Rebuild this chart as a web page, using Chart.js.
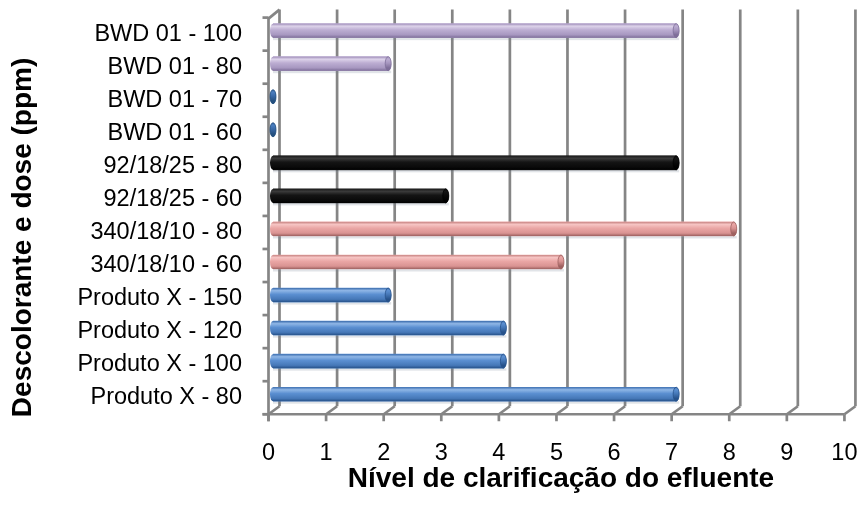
<!DOCTYPE html>
<html>
<head>
<meta charset="utf-8">
<script src="https://cdn.jsdelivr.net/npm/chart.js@4.4.1/dist/chart.umd.min.js"></script>
<style>
  html, body { margin: 0; padding: 0; background: #ffffff; }
  #wrap { width: 862px; height: 520px; }
</style>
</head>
<body>
<div id="wrap"><canvas id="chart"></canvas></div>
<script>
// Categories listed bottom-up (axis is reversed so the first one sits at the bottom)
const categories = [
  'Produto X - 80', 'Produto X - 100', 'Produto X - 120', 'Produto X - 150',
  '340/18/10 - 60', '340/18/10 - 80',
  '92/18/25 - 60', '92/18/25 - 80',
  'BWD 01 - 60', 'BWD 01 - 70', 'BWD 01 - 80', 'BWD 01 - 100'
];
const clarification = [7, 4, 4, 2, 5, 8, 3, 7, 0, 0, 2, 7];
const xTicks = [0, 1, 2, 3, 4, 5, 6, 7, 8, 9, 10];

// Cylinder shading per product family: [edge, highlight, body, lower, shadow]
const familyShades = {
  'Produto X': ['#3d6eae', '#8fb6e6', '#5b8fd1', '#4678b8', '#27528a'],
  '340/18/10': ['#c98584', '#f6c4c3', '#eaa6a5', '#d99392', '#9e6160'],
  '92/18/25':  ['#1a1a1a', '#3a3a3a', '#141414', '#0a0a0a', '#000000'],
  'BWD 01':    ['#9e8cb8', '#ddd3ea', '#bcadd2', '#a797c0', '#7e6e99']
};
const emptyCapShade = ['#3d6eae', '#7aa4d8', '#4a7ec0', '#3a6aa8', '#24507f'];
const familyOf = label => label.split(' - ')[0];

// 3D offsets of the back wall and front floor edge relative to the bar plane
const BACK = { dx: 6.5, dy: -4.5 };
const FRONT = { dx: -4.5, dy: 3.5 };
// vertical title sits a little below the middle of the plot
const Y_TITLE_SHIFT = 25;

function seg(ctx, x1, y1, x2, y2) {
  ctx.beginPath();
  ctx.moveTo(x1, y1);
  ctx.lineTo(x2, y2);
  ctx.stroke();
}

// Walls, floor edge, gridlines and axis ticks in pseudo-3D
const frame3d = {
  id: 'frame3d',
  beforeDatasetsDraw(chart) {
    const { ctx, chartArea: a, scales: { x } } = chart;
    ctx.save();
    ctx.strokeStyle = '#858585';
    ctx.lineWidth = 2.7;
    const floorF = a.bottom + FRONT.dy;
    const floorB = a.bottom + BACK.dy;
    xTicks.forEach(v => {
      const px = x.getPixelForValue(v);
      seg(ctx, px + BACK.dx, a.top + BACK.dy, px + BACK.dx, floorB);
      seg(ctx, px + FRONT.dx, floorF, px + BACK.dx, floorB);
      seg(ctx, px + FRONT.dx, floorF, px + FRONT.dx, floorF + 7);
    });
    const x0 = x.getPixelForValue(0);
    const x10 = x.getPixelForValue(10);
    seg(ctx, x0 + FRONT.dx - 6, floorF, x10 + FRONT.dx, floorF);
    // left wall front edge and its top corner
    const lx = a.left + FRONT.dx;
    seg(ctx, lx, a.top + FRONT.dy, lx, floorF + 7);
    seg(ctx, lx, a.top + FRONT.dy + 1, a.left + BACK.dx, a.top + BACK.dy);
    const step = (a.bottom - a.top) / categories.length;
    for (let k = 0; k <= categories.length; k++) {
      const py = a.top + k * step + FRONT.dy;
      seg(ctx, lx - 6, py, lx, py);
    }
    ctx.restore();
  }
};

// Moves the y-axis title down by Y_TITLE_SHIFT pixels
const titleShift = {
  id: 'titleShift',
  afterLayout(chart) {
    const s = chart.scales.y;
    if (s && !s.__shifted) {
      const orig = s.drawTitle.bind(s);
      s.drawTitle = function () {
        this.ctx.save();
        this.ctx.translate(0, Y_TITLE_SHIFT);
        orig();
        this.ctx.restore();
      };
      s.__shifted = true;
    }
  }
};

function bodyGradient(ctx, top, bottom, s) {
  const g = ctx.createLinearGradient(0, top, 0, bottom);
  g.addColorStop(0, s[0]);
  g.addColorStop(0.18, s[1]);
  g.addColorStop(0.45, s[2]);
  g.addColorStop(0.8, s[3]);
  g.addColorStop(1, s[4]);
  return g;
}

// Cylinder shading drawn over each bar element the library laid out
const cylinders = {
  id: 'cylinders',
  afterDatasetsDraw(chart) {
    const { ctx } = chart;
    const meta = chart.getDatasetMeta(0);
    meta.data.forEach((bar, i) => {
      const { x, y, base, height } = bar.getProps(['x', 'y', 'base', 'height'], true);
      const r = height / 2;
      const rx = 3;
      const empty = clarification[i] === 0;
      const s = empty ? emptyCapShade : familyShades[familyOf(categories[i])];
      const top = y - r, bottom = y + r;
      ctx.save();
      // soft shadow under the cylinder
      if (!empty) {
        ctx.fillStyle = 'rgba(120,130,150,0.22)';
        ctx.fillRect(base, bottom, x - base + rx, 2.5);
      }
      const g = bodyGradient(ctx, top, bottom, s);
      ctx.fillStyle = g;
      ctx.beginPath();
      ctx.ellipse(base, y, rx, r, 0, Math.PI / 2, Math.PI * 1.5);
      ctx.lineTo(x, top);
      ctx.ellipse(x, y, rx, r, 0, -Math.PI / 2, Math.PI / 2);
      ctx.closePath();
      ctx.fill();
      // end cap
      ctx.beginPath();
      ctx.ellipse(x, y, rx, r, 0, 0, Math.PI * 2);
      ctx.fillStyle = bodyGradient(ctx, top, bottom, [s[3], s[2], s[3], s[4], s[4]]);
      ctx.fill();
      ctx.lineWidth = 0.8;
      ctx.strokeStyle = s[4];
      ctx.stroke();
      ctx.restore();
    });
  }
};

const chart = new Chart(document.getElementById('chart'), {
  type: 'bar',
  data: {
    labels: categories,
    datasets: [{
      data: clarification,
      backgroundColor: categories.map(c => familyShades[familyOf(c)][2]),
      borderWidth: 0,
      barThickness: 14
    }]
  },
  options: {
    indexAxis: 'y',
    responsive: true,
    maintainAspectRatio: false,
    animation: false,
    layout: { padding: { top: 13, right: 12, bottom: 26.5, left: 0 } },
    plugins: { legend: { display: false }, tooltip: { enabled: false } },
    scales: {
      x: {
        type: 'linear',
        min: 0,
        max: 10,
        afterBuildTicks: scale => { scale.ticks = xTicks.map(v => ({ value: v })); },
        grid: { display: false, drawTicks: true, tickLength: 31.25 },
        border: { display: false },
        ticks: {
          color: '#000000',
          padding: 0,
          autoSkip: false,
          maxRotation: 0,
          labelOffset: FRONT.dx,
          font: { family: '"Liberation Sans", Arial, sans-serif', size: 23.5, lineHeight: 1.0 }
        },
        title: {
          display: true,
          text: 'Nível de clarificação do efluente',
          color: '#000000',
          padding: { top: 0, bottom: 0 },
          font: { family: '"Liberation Sans", Arial, sans-serif', size: 28, weight: 'bold', lineHeight: 1.0 }
        }
      },
      y: {
        reverse: true,
        grid: { display: false, drawTicks: true, tickLength: 31 },
        border: { display: false },
        ticks: {
          color: '#000000',
          padding: 0,
          autoSkip: false,
          labelOffset: FRONT.dy,
          font: { family: '"Liberation Sans", Arial, sans-serif', size: 23.5 }
        },
        title: {
          display: true,
          text: 'Descolorante e dose (ppm)',
          color: '#000000',
          padding: { top: 6, bottom: 37.8 },
          font: { family: '"Liberation Sans", Arial, sans-serif', size: 28, weight: 'bold' }
        }
      }
    }
  },
  plugins: [frame3d, titleShift, cylinders]
});
</script>
</body>
</html>
